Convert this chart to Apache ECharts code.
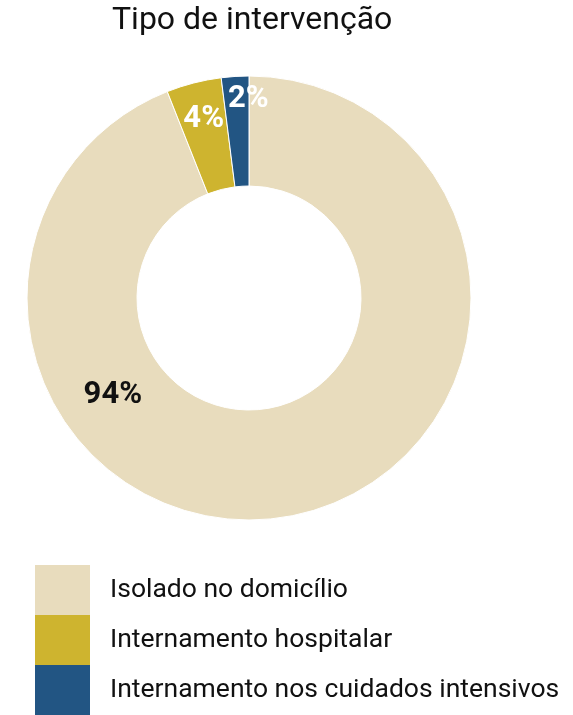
<!DOCTYPE html>
<html>
<head>
<meta charset="utf-8">
<script src="https://cdn.jsdelivr.net/npm/echarts@6/dist/echarts.min.js"></script>
<style>
  html, body { margin: 0; padding: 0; background: #fff; }
  #chart { width: 573px; height: 715px; }
</style>
</head>
<body>
<div id="chart"></div>
<script>
// Categories and shares (percent)
const categories = ['Isolado no domicílio', 'Internamento hospitalar', 'Internamento nos cuidados intensivos'];
const shares = [94, 4, 2];
const colors = ['#E8DCBD', '#CEB42F', '#225583'];
const labelColors = ['#111111', '#ffffff', '#ffffff'];
// Label nudges away from the default mid-ring placement
const labelShift = [[-168, -70], [-3, -14], [10, -29]];

const chart = echarts.init(document.getElementById('chart'), null, { renderer: 'canvas' });

chart.setOption({
  animation: false,
  title: {
    text: 'Tipo de intervenção',
    left: 107,
    top: 0,
    textStyle: { fontFamily: 'Roboto', fontWeight: 'normal', fontSize: 32, color: '#111' }
  },
  legend: {
    orient: 'vertical',
    left: 35,
    top: 565,
    padding: 0,
    itemWidth: 55,
    itemHeight: 50,
    itemGap: 0,
    icon: 'rect',
    selectedMode: false,
    itemStyle: { borderWidth: 0 },
    data: categories,
    textStyle: { fontFamily: 'Roboto', fontSize: 26.5, color: '#111', padding: [0, 0, 0, 15] }
  },
  series: [{
    type: 'pie',
    center: [249, 298],
    radius: [112, 222],
    startAngle: 90,
    clockwise: true,
    avoidLabelOverlap: false,
    itemStyle: { borderColor: '#fff', borderWidth: 1 },
    label: {
      show: true,
      position: 'inside',
      fontFamily: 'Roboto',
      fontWeight: 'bold',
      fontSize: 31,
      formatter: p => p.value + '%'
    },
    labelLine: { show: false },
    labelLayout: p => ({ dx: labelShift[p.dataIndex][0], dy: labelShift[p.dataIndex][1] }),
    emphasis: { disabled: true },
    data: categories.map((name, i) => ({
      name,
      value: shares[i],
      itemStyle: { color: colors[i] },
      label: { color: labelColors[i] }
    }))
  }]
});
</script>
</body>
</html>
